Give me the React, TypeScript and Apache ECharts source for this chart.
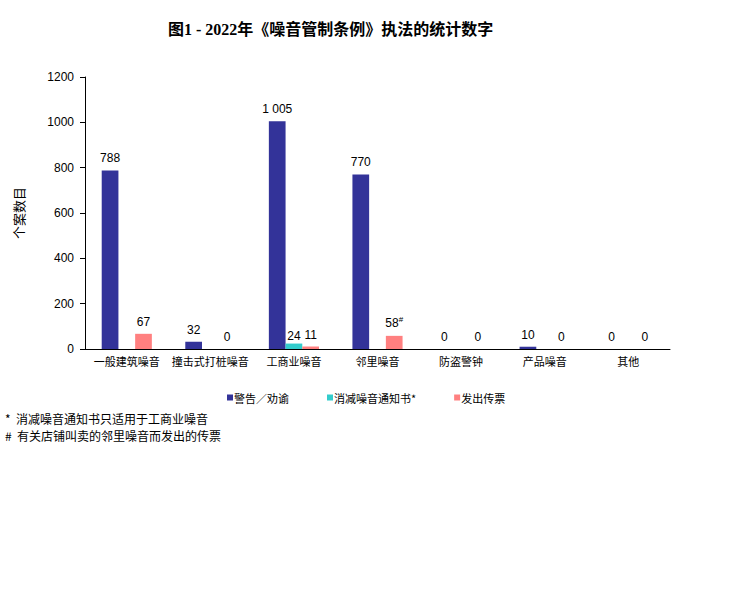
import React, { useEffect, useRef } from "react";
import * as echarts from "echarts";

const categories = ["一般建筑噪音", "撞击式打桩噪音", "工商业噪音", "邻里噪音", "防盗警钟", "产品噪音", "其他"];
const warnings = [788, 32, 1005, 770, 0, 10, 0];
const abatementNotices: (number | string)[] = ["-", "-", 24, "-", "-", "-", "-"];
const summonses = [67, 0, 11, 58, 0, 0, 0];
const summonsNotes = ["", "", "", "#", "", "", ""];
const seriesNames = ["警告／劝谕", "消减噪音通知书*", "发出传票"];
const yTicks = { min: 0, max: 1200, interval: 200 };
const titleText = "图1 - 2022年《噪音管制条例》执法的统计数字";
const yAxisName = "个案数目";
const footnotes = ["*  消减噪音通知书只适用于工商业噪音", "#  有关店铺叫卖的邻里噪音而发出的传票"];

const SANS = "'Liberation Sans', Arial, 'Noto Sans CJK SC', sans-serif";
const CJK = "'Noto Sans CJK SC', 'Liberation Sans', sans-serif";

function fmt(v: number): string {
  return String(v).replace(/\B(?=(\d{3})+(?!\d))/g, " ");
}

export default function App() {
  const ref = useRef<HTMLDivElement>(null);
  useEffect(() => {
    if (!ref.current) return;
    const chart = echarts.init(ref.current, null, { renderer: "svg" });
    const labelBase = {
      show: true,
      position: "top" as const,
      distance: 6,
      color: "#000",
      fontFamily: SANS,
      fontSize: 12,
    };
    chart.setOption({
      animation: false,
      backgroundColor: "#fff",
      title: {
        text: titleText,
        left: 163,
        top: 16,
        textStyle: {
          fontFamily: "'Liberation Serif', 'Noto Sans CJK SC', serif",
          fontSize: 16,
          fontWeight: "bold",
          color: "#000",
        },
      },
      legend: {
        left: 222,
        top: 387,
        itemWidth: 6,
        itemHeight: 6,
        itemGap: 38,
        icon: "rect",
        textStyle: { fontFamily: CJK, fontSize: 11, color: "#000", padding: [0, 0, 0, -4] },
        data: seriesNames,
      },
      grid: { left: 85, right: 73, top: 77, bottom: 247, containLabel: false },
      xAxis: {
        type: "category",
        data: categories,
        axisLine: { lineStyle: { color: "#000", width: 1 } },
        axisTick: { show: false },
        axisLabel: { color: "#000", fontFamily: CJK, fontSize: 11, margin: 6, interval: 0 },
      },
      yAxis: {
        type: "value",
        min: yTicks.min,
        max: yTicks.max,
        interval: yTicks.interval,
        name: yAxisName,
        nameLocation: "middle",
        nameRotate: 90,
        nameGap: 60,
        nameTextStyle: { color: "#000", fontFamily: CJK, fontSize: 13 },
        axisLine: { show: true, lineStyle: { color: "#000", width: 1 } },
        axisTick: { show: true, length: 5, lineStyle: { color: "#000" } },
        axisLabel: { color: "#000", fontFamily: SANS, fontSize: 12, margin: 11, formatter: (v: number) => String(v) },
        splitLine: { show: false },
      },
      series: [
        {
          name: seriesNames[0],
          type: "bar",
          data: warnings,
          itemStyle: { color: "#333399" },
          barGap: "0%",
          barCategoryGap: "40%",
          label: { ...labelBase, formatter: (p: any) => fmt(p.value) },
        },
        {
          name: seriesNames[1],
          type: "bar",
          data: abatementNotices,
          itemStyle: { color: "#33CCCC" },
          barGap: "0%",
          barCategoryGap: "40%",
          label: { ...labelBase, distance: 2, formatter: (p: any) => fmt(p.value) },
        },
        {
          name: seriesNames[2],
          type: "bar",
          data: summonses,
          itemStyle: { color: "#FF8080" },
          barGap: "0%",
          barCategoryGap: "40%",
          label: {
            ...labelBase,
            formatter: (p: any) => {
              const note = summonsNotes[p.dataIndex];
              return note ? `{v|${fmt(p.value)}}{s|${note}}` : `{v|${fmt(p.value)}}`;
            },
            rich: {
              v: { fontFamily: SANS, fontSize: 12, color: "#000" },
              s: { fontFamily: SANS, fontSize: 8, color: "#000", padding: [0, 0, 6, 0] },
            },
          },
        },
      ],
      graphic: footnotes.map((t, i) => ({
        type: "text",
        left: 5,
        top: 412 + i * 17,
        style: { text: t, fontFamily: CJK, fontSize: 12, fill: "#000" },
      })),
    });
    return () => chart.dispose();
  }, []);
  return (
    <div
      ref={ref}
      style={{ position: "fixed", left: 0, top: 0, width: 743, height: 596, background: "#fff" }}
    />
  );
}
